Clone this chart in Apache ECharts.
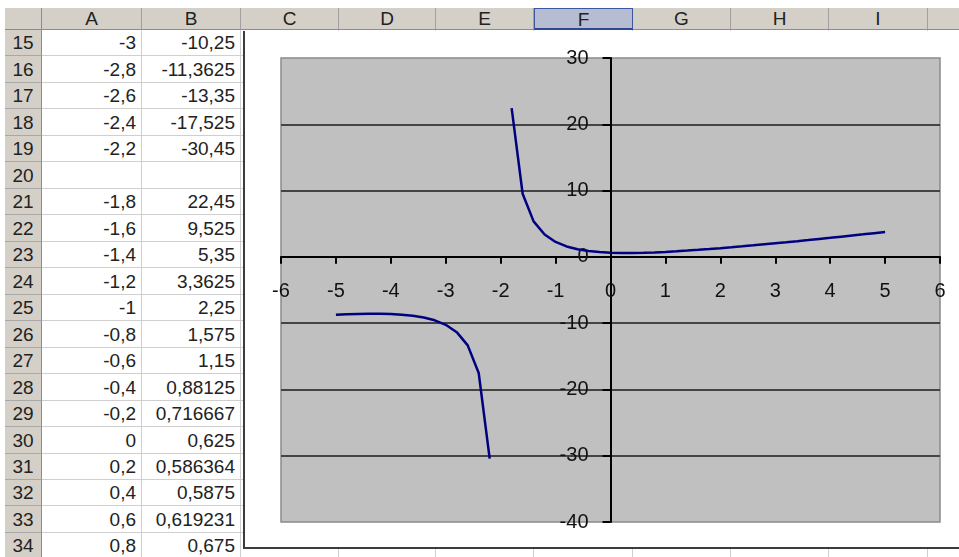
<!DOCTYPE html>
<html><head><meta charset="utf-8">
<script src="https://cdn.jsdelivr.net/npm/echarts@6/dist/echarts.min.js"></script>
<style>
html,body{margin:0;padding:0;background:#fff;width:959px;height:557px;overflow:hidden;font-family:'Liberation Sans',Arial,sans-serif;}
.c{position:absolute;box-sizing:border-box;font-size:19px;white-space:nowrap;overflow:hidden;color:#222;}
#chart{position:absolute;left:243px;top:31px;width:714px;height:516px;border-left:2px solid #3c3c3c;border-bottom:2px solid #3c3c3c;background:#fff;}
</style>
</head><body>
<div id="sheet"></div>
<div id="chart"></div>
<script>
// ---- spreadsheet content ----
const colLetters = ['A','B','C','D','E','F','G','H','I',''];
const rowNumbers = [15,16,17,18,19,20,21,22,23,24,25,26,27,28,29,30,31,32,33,34];
const colA = ['-3','-2,8','-2,6','-2,4','-2,2','','-1,8','-1,6','-1,4','-1,2','-1','-0,8','-0,6','-0,4','-0,2','0','0,2','0,4','0,6','0,8'];
const colB = ['-10,25','-11,3625','-13,35','-17,525','-30,45','','22,45','9,525','5,35','3,3625','2,25','1,575','1,15','0,88125','0,716667','0,625','0,586364','0,5875','0,619231','0,675'];
const selectedCol = 'F';

// ---- chart data ----
const xValues = [-5,-4.8,-4.6,-4.4,-4.2,-4,-3.8,-3.6,-3.4,-3.2,-3,-2.8,-2.6,-2.4,-2.2,-2,
  -1.8,-1.6,-1.4,-1.2,-1,-0.8,-0.6,-0.4,-0.2,0,0.2,0.4,0.6,0.8,1,1.2,1.4,1.6,1.8,2,
  2.2,2.4,2.6,2.8,3,3.2,3.4,3.6,3.8,4,4.2,4.4,4.6,4.8,5];
const yValues = [-8.75,-8.675,-8.61923,-8.5875,-8.58636,-8.625,-8.71667,-8.88125,-9.15,-9.575,-10.25,-11.3625,-13.35,-17.525,-30.45,null,
  22.45,9.525,5.35,3.3625,2.25,1.575,1.15,0.88125,0.716667,0.625,0.586364,0.5875,0.619231,0.675,0.75,0.840625,0.944118,1.058333,1.181579,1.3125,
  1.45,1.593182,1.741304,1.89375,2.05,2.209615,2.372222,2.5375,2.705172,2.875,3.046774,3.220313,3.395455,3.572059,3.75];
const xAxisRange = [-6, 6, 1];
const yAxisRange = [-40, 30, 10];

// ---- build sheet ----
const sheet = document.getElementById('sheet');
const colEdges = [42,142,241,339,436,534,633,731,829,928,1000];
const rowTop = 30, rowH = 26.47, hdrTop = 8, leftX = 5;
function mk(l,t,w,h,style,txt){
  const d=document.createElement('div');d.className='c';
  d.style.cssText+=`left:${l}px;top:${t}px;width:${w}px;height:${h}px;line-height:${h}px;`+style;
  if(txt!==undefined)d.textContent=txt;sheet.appendChild(d);return d;
}
const hdrBg='background:#D4D0C8;';
mk(leftX,hdrTop,colEdges[0]-leftX,rowTop-hdrTop,hdrBg+'border-right:1px solid #8c8c8c;border-bottom:1px solid #8c8c8c;');
for(let i=0;i<colLetters.length;i++){
  const l=colEdges[i],w=colEdges[i+1]-l;
  const sel=colLetters[i]===selectedCol;
  mk(l,hdrTop,w,rowTop-hdrTop,(sel?'background:#B6BDD2;border:1px solid #3A58A0;border-bottom:2px solid #2C4A94;':hdrBg+'border-right:1px solid #A0A0A0;border-bottom:1px solid #8c8c8c;')+'text-align:center;',colLetters[i]);
}
for(let r=0;r<rowNumbers.length;r++){
  const t=Math.round(rowTop+r*rowH), b=Math.round(rowTop+(r+1)*rowH), h=b-t;
  mk(leftX,t,colEdges[0]-leftX,h,hdrBg+'border-right:1px solid #8c8c8c;border-bottom:1px solid #A8A8A8;text-align:center;',String(rowNumbers[r]));
  for(let i=0;i<colLetters.length;i++){
    const l=colEdges[i],w=colEdges[i+1]-l;
    let txt='';
    if(i===0)txt=colA[r]; else if(i===1)txt=colB[r];
    mk(l,t,w,h,'background:#fff;border-right:1px solid #CFCFCF;border-bottom:1px solid #CFCFCF;text-align:right;padding-right:5px;',txt);
  }
}

// ---- chart ----
const chartEl = document.getElementById('chart');
const chart = echarts.init(chartEl, null, {renderer:'canvas'});
const seriesData = xValues.map((x,i)=>[x, yValues[i]===null ? '-' : yValues[i]]);
const fontFam = "'Liberation Sans', Arial, sans-serif";
const G = {left:36, top:27, right:19, bottom:25};
const plotW = chartEl.clientWidth - G.left - G.right;
const plotH = chartEl.clientHeight - G.top - G.bottom;
// place axes where the other axis is zero (Excel-style crossing)
const yAxisShift = plotW * (0 - xAxisRange[0]) / (xAxisRange[1] - xAxisRange[0]);
const xAxisShift = plotH * (0 - yAxisRange[0]) / (yAxisRange[1] - yAxisRange[0]);
chart.setOption({
  animation:false,
  grid:{left:G.left,top:G.top,right:G.right,bottom:G.bottom,show:true,backgroundColor:'#C0C0C0',borderColor:'#8a8a8a',borderWidth:1.5,outerBoundsMode:'none',containLabel:false},
  xAxis:{type:'value',min:xAxisRange[0],max:xAxisRange[1],interval:xAxisRange[2],position:'bottom',offset:-xAxisShift,
    axisLine:{show:true,onZero:false,lineStyle:{color:'#000',width:2}},
    axisTick:{show:true,length:7,lineStyle:{color:'#000',width:2}},
    axisLabel:{margin:25,fontSize:20,color:'#111',fontFamily:fontFam},
    splitLine:{show:false}},
  yAxis:{type:'value',min:yAxisRange[0],max:yAxisRange[1],interval:yAxisRange[2],position:'left',offset:-yAxisShift,
    axisLine:{show:true,onZero:false,lineStyle:{color:'#000',width:2}},
    axisTick:{show:true,length:8,lineStyle:{color:'#000',width:2}},
    axisLabel:{margin:22,fontSize:20,color:'#111',fontFamily:fontFam,padding:[0,0,8,0]},
    splitLine:{show:true,showMinLine:false,showMaxLine:false,lineStyle:{color:'#444',width:2}}},
  series:[{type:'line',data:seriesData,symbol:'none',showSymbol:false,connectNulls:false,
    lineStyle:{color:'#000080',width:2.5}}]
});
</script>
</body></html>
